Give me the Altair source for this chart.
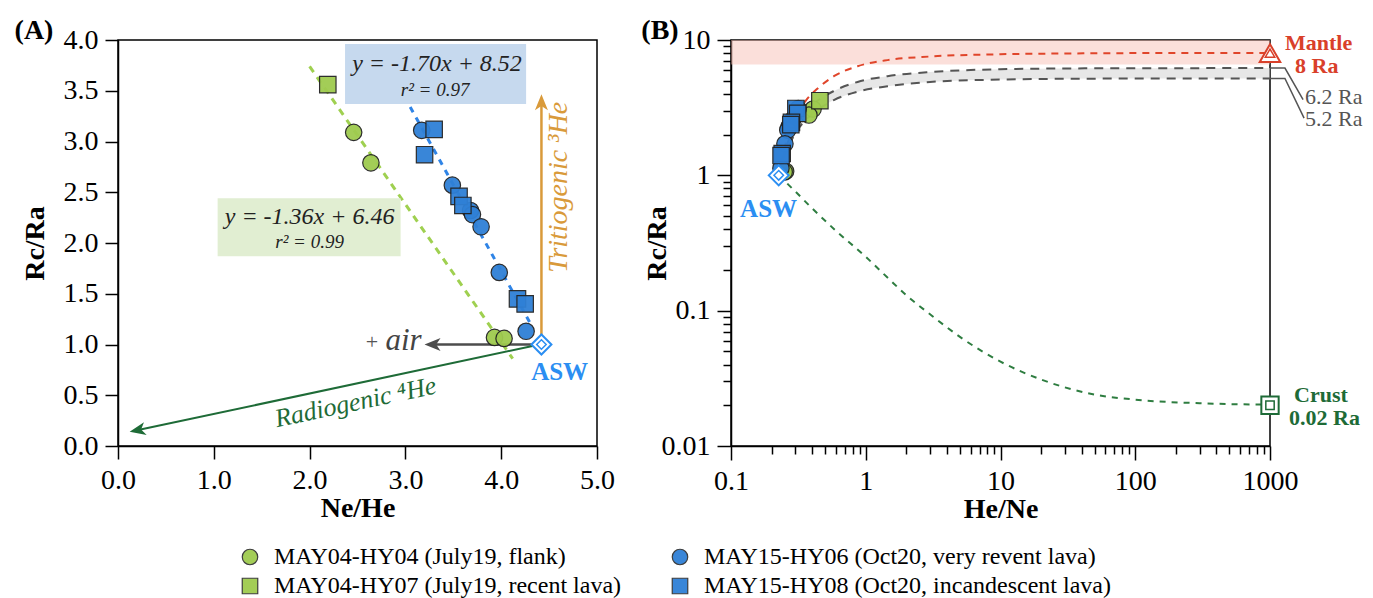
import altair as alt
import pandas as pd

FONT = "Liberation Serif"

# ---------------- data ----------------
series_names = [
    "MAY04-HY04 (July19, flank)",
    "MAY04-HY07 (July19, recent lava)",
    "MAY15-HY06 (Oct20, very revent lava)",
    "MAY15-HY08 (Oct20, incandescent lava)",
]
series_colors = ["#9fcb4f", "#9fcb4f", "#2f80d6", "#2f80d6"]
series_shapes = ["circle", "square", "circle", "square"]

hy04_ne_he = [2.46, 2.64, 3.93, 4.03]
hy04_rc_ra = [3.09, 2.79, 1.07, 1.06]
hy07_ne_he = [2.19]
hy07_rc_ra = [3.56]
hy06_ne_he = [3.17, 3.49, 3.68, 3.70, 3.79, 3.98, 4.26]
hy06_rc_ra = [3.11, 2.57, 2.32, 2.28, 2.16, 1.71, 1.13]
hy08_ne_he = [3.30, 3.20, 3.56, 3.60, 4.17, 4.25]
hy08_rc_ra = [3.12, 2.87, 2.46, 2.37, 1.45, 1.40]

asw_ne_he = [4.42]
asw_he_ne = [0.226]
asw_rc_ra = [1.0]

fit_green_x = [2.00, 4.12]
fit_green_y = [3.74, 0.86]
fit_blue_x = [3.05, 4.32]
fit_blue_y = [3.34, 1.18]

# mixing curves, panel B (He/Ne, Rc/Ra)
mix_he_ne = [0.226, 0.25, 0.28, 0.32, 0.37, 0.43, 0.58, 0.87, 1.45, 3.0, 10.0, 30.0, 100.0, 1000.0]
mix_mantle = [1.0, 1.6, 2.3, 3.0, 3.7, 4.3, 5.4, 6.4, 7.1, 7.55, 7.85, 7.95, 8.0, 8.0]
mix_62 = [1.0, 1.5, 2.0, 2.55, 3.05, 3.5, 4.2, 4.9, 5.4, 5.8, 6.08, 6.16, 6.19, 6.2]
mix_52 = [1.0, 1.4, 1.8, 2.25, 2.65, 3.0, 3.6, 4.15, 4.55, 4.9, 5.1, 5.17, 5.19, 5.2]
crust_he_ne = [0.226, 0.3, 0.4, 0.6, 1.0, 1.5, 2.0, 3.0, 5.0, 10.0, 20.0, 50.0, 100.0, 300.0, 1000.0]
crust_rc = [1.0, 0.76, 0.57, 0.39, 0.25, 0.17, 0.13, 0.094, 0.064, 0.042, 0.031, 0.024, 0.022, 0.0207, 0.0202]

mantle_band_he_ne = [0.1, 1000.0]
mantle_band_lo = [6.6, 6.6]
mantle_band_hi = [10.0, 10.0]

end_he_ne = [1000.0]
mantle_end = [8.0]
r62_end = [6.2]
r52_end = [5.2]
crust_end = [0.02]

# ---------------- tables ----------------
rows = []
for name, xs, ys in [
    (series_names[0], hy04_ne_he, hy04_rc_ra),
    (series_names[1], hy07_ne_he, hy07_rc_ra),
    (series_names[2], hy06_ne_he, hy06_rc_ra),
    (series_names[3], hy08_ne_he, hy08_rc_ra),
]:
    for a, b in zip(xs, ys):
        rows.append({"series": name, "ne_he": a, "rc_ra": b})
pts = pd.DataFrame(rows)

mix = pd.DataFrame({"x": mix_he_ne, "mantle": mix_mantle, "r62": mix_62, "r52": mix_52})
crust = pd.DataFrame({"x": crust_he_ne, "y": crust_rc})
band = pd.DataFrame({"x": mantle_band_he_ne, "lo": mantle_band_lo, "hi": mantle_band_hi})

# ---------------- styles ----------------
GREEN_TXT = "#1e6b37"
ORANGE = "#d99a3a"
ASW_BLUE = "#2b8ef2"
RED = "#d9402a"
GRAY = "#555555"
ARROW = "M0,-1L0.75,0.85L0,0.35L-0.75,0.85Z"

axis_common = dict(
    labelFont=FONT, labelFontSize=28, labelColor="black",
    titleFont=FONT, titleFontSize=28, titleFontWeight="bold", titleColor="black",
    domainColor="black", domainWidth=1.5, tickColor="black", tickWidth=1.5,
    labelPadding=7, grid=False, labelFlush=False, labelOverlap=False,
)

legend = alt.Legend(
    orient="none", legendX=120, legendY=505, columns=2, columnPadding=46,
    rowPadding=5, labelFont=FONT, labelFontSize=24, labelColor="black",
    labelLimit=800, symbolSize=240, symbolStrokeColor="#333333",
    symbolStrokeWidth=1.2, labelOffset=12, values=series_names,
)
color_enc = alt.Color("series:N", title=None, legend=legend, sort=series_names,
                      scale=alt.Scale(domain=series_names, range=series_colors))
shape_enc = alt.Shape("series:N", title=None, legend=legend, sort=series_names,
                      scale=alt.Scale(domain=series_names, range=series_shapes))

# ---------------- panel A ----------------
xA_scale = alt.Scale(domain=[0, 5], nice=False, zero=False)
yA_scale = alt.Scale(domain=[0, 4], nice=False, zero=False)
axA_x = alt.Axis(title="Ne/He", values=[0, 1, 2, 3, 4, 5], format=".1f",
                 tickSize=13, titlePadding=0, **axis_common)
axA_y = alt.Axis(title="Rc/Ra", values=[0, 0.5, 1, 1.5, 2, 2.5, 3, 3.5, 4],
                 format=".1f", tickSize=13, titlePadding=14, **axis_common)


def XA(f):
    return alt.X(f, type="quantitative", scale=xA_scale, axis=axA_x)


def YA(f):
    return alt.Y(f, type="quantitative", scale=yA_scale, axis=axA_y)


def one(**kw):
    return pd.DataFrame({k: [v] for k, v in kw.items()})


def rectA(x, x2, y, y2, fill):
    return alt.Chart(one(x=x, x2=x2, y=y, y2=y2)).mark_rect(fill=fill).encode(
        x=XA("x"), x2="x2:Q", y=YA("y"), y2="y2:Q")


def ruleA(x, y, x2, y2, color, w):
    return alt.Chart(one(x=x, y=y, x2=x2, y2=y2)).mark_rule(color=color, strokeWidth=w).encode(
        x=XA("x"), x2="x2:Q", y=YA("y"), y2="y2:Q")


def headA(x, y, ang, color, size=300):
    return alt.Chart(one(x=x, y=y)).mark_point(
        shape=ARROW, filled=True, color=color, size=size, angle=ang, opacity=1
    ).encode(x=XA("x"), y=YA("y"))


def txtA(t, x, y, size, color="#222222", weight="normal", style="normal", angle=0, align="center", dx=0, dy=0):
    return alt.Chart(one(x=x, y=y, t=t)).mark_text(
        font=FONT, fontSize=size, color=color, fontWeight=weight, fontStyle=style,
        angle=angle, align=align, baseline="middle", dx=dx, dy=dy
    ).encode(x=XA("x"), y=YA("y"), text="t:N")


fitg = alt.Chart(pd.DataFrame({"x": fit_green_x, "y": fit_green_y})).mark_line(
    color="#9fd050", strokeWidth=3, strokeDash=[7, 6]).encode(x=XA("x"), y=YA("y"))
fitb = alt.Chart(pd.DataFrame({"x": fit_blue_x, "y": fit_blue_y})).mark_line(
    color="#2f84e6", strokeWidth=3, strokeDash=[6, 6]).encode(x=XA("x"), y=YA("y"))

pointsA = alt.Chart(pts).mark_point(filled=True, size=270, stroke="#222222", strokeWidth=1.2, opacity=0.95).encode(
    x=XA("ne_he"), y=YA("rc_ra"), color=color_enc, shape=shape_enc)

aswA_df = pd.DataFrame({"x": asw_ne_he, "y": asw_rc_ra})
aswA_outer = alt.Chart(aswA_df).mark_point(shape="diamond", size=400, fill="white", filled=True,
                                           stroke=ASW_BLUE, strokeWidth=2, opacity=1).encode(x=XA("x"), y=YA("y"))
aswA_inner = alt.Chart(aswA_df).mark_point(shape="diamond", size=90, filled=False,
                                           stroke=ASW_BLUE, strokeWidth=1.5, opacity=1).encode(x=XA("x"), y=YA("y"))

panelA = alt.layer(
    fitg, fitb,
    rectA(2.37, 4.26, 3.37, 3.96, "#c6d9ee"),
    rectA(1.04, 2.95, 1.87, 2.44, "#e1eed2"),
    ruleA(4.42, 1.0, 4.42, 3.38, ORANGE, 2.5),
    headA(4.42, 3.38, 0, ORANGE),
    ruleA(4.42, 1.0, 3.29, 1.0, "#4d4d4d", 2.5),
    headA(3.29, 1.0, 270, "#4d4d4d"),
    ruleA(4.40, 1.0, 0.21, 0.157, GREEN_TXT, 2),
    headA(0.21, 0.157, 258, GREEN_TXT),
    pointsA,
    aswA_outer, aswA_inner,
    txtA("y = -1.70x + 8.52", 3.33, 3.76, 24, style="italic"),
    txtA("r² = 0.97", 3.31, 3.51, 19, style="italic"),
    txtA("y = -1.36x + 6.46", 2.0, 2.26, 24, style="italic"),
    txtA("r² = 0.99", 2.0, 2.01, 19, style="italic"),
    txtA("Tritiogenic ³He", 4.6, 2.55, 28, color=ORANGE, style="italic", angle=270),
    txtA("Radiogenic ⁴He", 2.48, 0.43, 26, color=GREEN_TXT, style="italic", angle=348),
    txtA("+", 2.65, 1.02, 22, color="#555555"),
    txtA("air", 2.98, 1.03, 31, color="#444444", style="italic"),
    txtA("ASW", 4.61, 0.73, 25, color=ASW_BLUE, weight="bold"),
    txtA("(A)", 0, 4, 28, color="black", weight="bold", dx=-84, dy=-9),
).properties(width=479, height=406)

# ---------------- panel B ----------------
xB_scale = alt.Scale(type="log", domain=[0.1, 1000], nice=False)
yB_scale = alt.Scale(type="log", domain=[0.01, 10], nice=False)
decade_test = "abs(log(datum.value)/LN10 - round(log(datum.value)/LN10)) < 0.000001"
tick_cond = {"condition": {"test": decade_test, "value": 14}, "value": 8}
label_expr = f"({decade_test}) ? format(datum.value, '~r') : ''"
xB_ticks = [m * 10.0 ** e for e in range(-1, 3) for m in range(1, 10)] + [1000.0]
yB_ticks = [m * 10.0 ** e for e in range(-2, 1) for m in range(1, 10)] + [10.0]
axB_x = alt.Axis(title="He/Ne", values=xB_ticks, labelExpr=label_expr, tickSize=tick_cond,
                 titlePadding=0, **axis_common)
axB_y = alt.Axis(title="Rc/Ra", values=yB_ticks, labelExpr=label_expr, tickSize=tick_cond,
                 titlePadding=-10, **axis_common)


def XB(f):
    return alt.X(f, type="quantitative", scale=xB_scale, axis=axB_x)


def YB(f):
    return alt.Y(f, type="quantitative", scale=yB_scale, axis=axB_y)


def txtB(t, x, y, size, color="#222222", weight="normal", align="left", dx=0, dy=0):
    return alt.Chart(one(x=x, y=y, t=t)).mark_text(
        font=FONT, fontSize=size, color=color, fontWeight=weight, align=align,
        baseline="middle", dx=dx, dy=dy
    ).encode(x=XB("x"), y=YB("y"), text="t:N")


def markerB(x, y, shape, size, color, filled=True, w=2):
    if filled:
        mk = alt.Chart(one(x=x, y=y)).mark_point(
            shape=shape, size=size, filled=True, fill="white", stroke=color,
            strokeWidth=w, opacity=1)
    else:
        mk = alt.Chart(one(x=x, y=y)).mark_point(
            shape=shape, size=size, filled=False, stroke=color, strokeWidth=w, opacity=1)
    return mk.encode(x=XB("x"), y=YB("y"))


bandB = alt.Chart(band).mark_area(color="#f7b9ad", opacity=0.45).encode(
    x=XB("x"), y=YB("lo"), y2="hi:Q")
hatchB = alt.Chart(mix).mark_area(color="#cfcfcf", opacity=0.5, interpolate="monotone").encode(
    x=XB("x"), y=YB("r52"), y2="r62:Q")
lineMantle = alt.Chart(mix).mark_line(color="#e0452a", strokeWidth=2, strokeDash=[7, 6],
                                      interpolate="monotone").encode(x=XB("x"), y=YB("mantle"))
line62 = alt.Chart(mix).mark_line(color=GRAY, strokeWidth=2, strokeDash=[9, 7],
                                  interpolate="monotone").encode(x=XB("x"), y=YB("r62"))
line52 = alt.Chart(mix).mark_line(color=GRAY, strokeWidth=2, strokeDash=[9, 7],
                                  interpolate="monotone").encode(x=XB("x"), y=YB("r52"))
lineCrust = alt.Chart(crust).mark_line(color="#2e7d40", strokeWidth=2, strokeDash=[6, 6],
                                       interpolate="monotone").encode(x=XB("x"), y=YB("y"))

leader = pd.DataFrame({
    "x": [1000.0, 1291.0, 1760.0, 1000.0, 1291.0, 1790.0],
    "y": [6.2, 6.2, 3.62, 5.2, 5.2, 2.65],
    "k": ["a", "a", "a", "b", "b", "b"],
    "o": [0, 1, 2, 0, 1, 2],
})
leaders = alt.Chart(leader).mark_line(color=GRAY, strokeWidth=1.5).encode(
    x=XB("x"), y=YB("y"), detail="k:N", order="o:Q")

pointsB = alt.Chart(pts).transform_calculate(he_ne="1/datum.ne_he").mark_point(
    filled=True, size=270, stroke="#222222", strokeWidth=1.2, opacity=0.95).encode(
    x=XB("he_ne"), y=YB("rc_ra"), color=color_enc, shape=shape_enc)

panelB = alt.layer(
    bandB, hatchB, line62, line52, lineMantle, lineCrust, leaders,
    pointsB,
    markerB(asw_he_ne[0], asw_rc_ra[0], "diamond", 400, ASW_BLUE),
    markerB(asw_he_ne[0], asw_rc_ra[0], "diamond", 90, ASW_BLUE, filled=False, w=1.5),
    markerB(end_he_ne[0], mantle_end[0], "triangle-up", 420, RED),
    markerB(end_he_ne[0], mantle_end[0], "triangle-up", 90, RED, filled=False, w=1.5),
    markerB(end_he_ne[0], crust_end[0], "square", 300, GREEN_TXT),
    markerB(end_he_ne[0], crust_end[0], "square", 70, GREEN_TXT, filled=False, w=1.5),
    txtB("ASW", 0.19, 0.56, 25, color=ASW_BLUE, weight="bold", align="center"),
    txtB("Mantle", 1000, 8, 22, color=RED, weight="bold", dx=15, dy=-10),
    txtB("8 Ra", 1000, 8, 22, color=RED, weight="bold", dx=25, dy=13),
    txtB("6.2 Ra", 1000, 6.2, 22, color=GRAY, dx=35, dy=29),
    txtB("5.2 Ra", 1000, 5.2, 22, color=GRAY, dx=35, dy=41),
    txtB("Crust", 1000, 0.02, 22, color=GREEN_TXT, weight="bold", dx=24, dy=-10),
    txtB("0.02 Ra", 1000, 0.02, 22, color=GREEN_TXT, weight="bold", dx=19, dy=13),
    txtB("(B)", 0.1, 10, 28, color="black", weight="bold", align="center", dx=-71, dy=-9),
).properties(width=539, height=406)

chart = alt.hconcat(panelA, panelB, spacing=134, bounds="flush").properties(
    padding={"left": 5, "top": 8, "right": 0, "bottom": 5}
).configure_view(stroke="black", strokeWidth=1.5)

chart.save("out.html", embed_options={"renderer": "svg", "actions": False})
